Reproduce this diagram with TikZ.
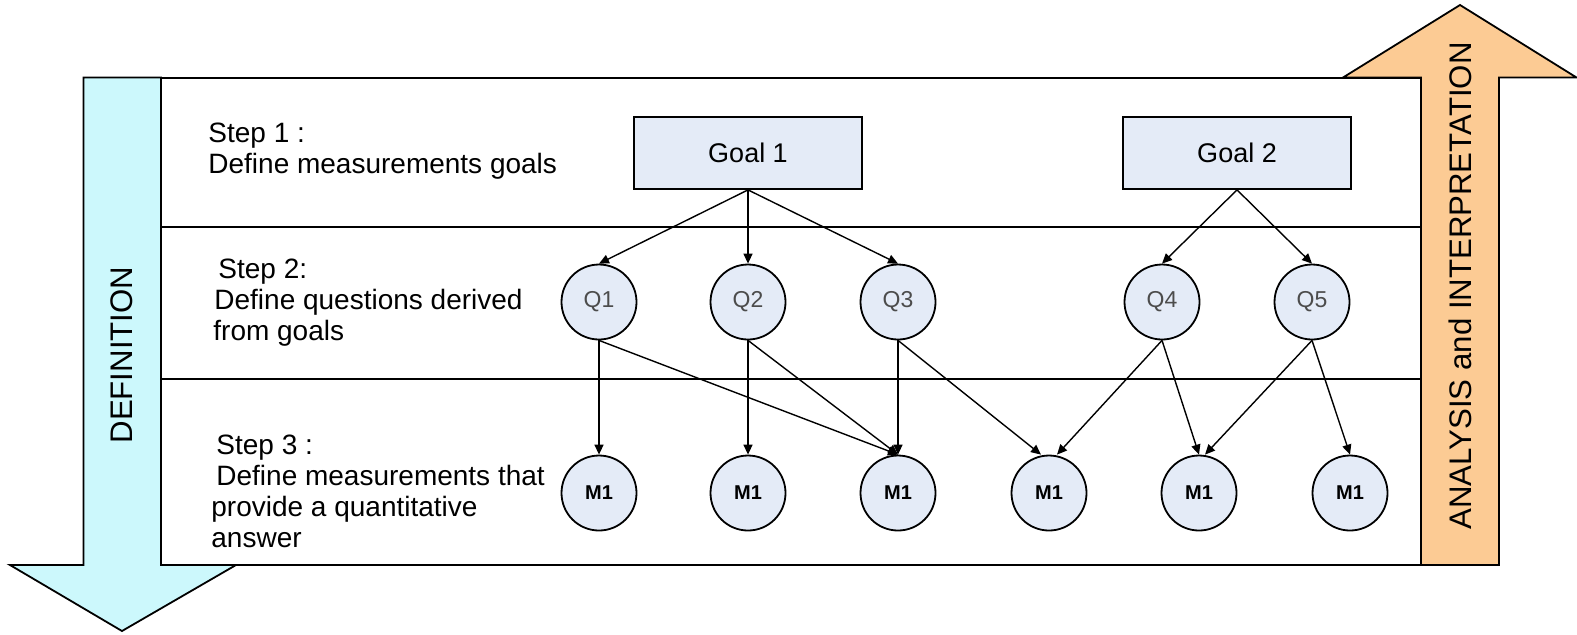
\documentclass[tikz,border=0pt]{standalone}
\usepackage{fontspec}
\setmainfont{Liberation Sans}
\usetikzlibrary{arrows.meta}
\definecolor{defCyan}{HTML}{CCF8FC}
\definecolor{anaOrange}{HTML}{FCCB94}
\definecolor{boxFill}{HTML}{E4EBF7}
\newcommand{\frameLeft}{161}
\newcommand{\frameRight}{1421}
\newcommand{\frameTop}{77.5}
\newcommand{\frameBottom}{565}
\newcommand{\rowOne}{227}
\newcommand{\rowTwo}{379}
\newcommand{\qRow}{302}
\newcommand{\mRow}{493}
\tikzset{
  goalbox/.style={draw, line width=0.9pt, fill=boxFill, minimum width=114pt, minimum height=36pt, font=\fontsize{13.5}{15}\selectfont},
  qnode/.style={draw, line width=0.9pt, circle, fill=boxFill, minimum size=37.5pt, inner sep=0pt, font=\fontsize{11.5}{13}\selectfont, text=black!70},
  mnode/.style={qnode, font=\fontsize{10}{12}\selectfont\bfseries, text=black},
  link/.style={-{Triangle[length=5pt,width=4.5pt]}, line width=0.7pt},
  steptext/.style={anchor=west, align=left, inner sep=0pt, font=\fontsize{14}{15.5}\selectfont},
  arrowtext/.style={rotate=90, font=\fontsize{15.6}{18}\selectfont}
}
\begin{document}
\begin{tikzpicture}[x=0.5pt, y=-0.5pt]
\useasboundingbox (0,0) rectangle (1577,634);
% the two big arrows
\draw[line width=0.9pt, fill=defCyan] (83.5,\frameTop) -- (\frameLeft,\frameTop) -- (\frameLeft,\frameBottom)
  -- (236,\frameBottom) -- (122,631) -- (10,\frameBottom) -- (83.5,\frameBottom) -- cycle;
\draw[line width=0.9pt, fill=anaOrange] (\frameRight,\frameBottom) -- (\frameRight,\frameTop) -- (1343,\frameTop)
  -- (1460,5) -- (1576.5,\frameTop) -- (1499,\frameTop) -- (1499,\frameBottom) -- cycle;
\node[arrowtext] (definition) at (122,355) {DEFINITION};
\node[arrowtext] (analysis) at (1460,286) {ANALYSIS and INTERPRETATION};
% frame and rows
\draw[line width=1pt] (\frameLeft,\frameTop) rectangle (\frameRight,\frameBottom);
\draw[line width=1pt] (\frameLeft,\rowOne) -- (\frameRight,\rowOne);
\draw[line width=1pt] (\frameLeft,\rowTwo) -- (\frameRight,\rowTwo);
% step descriptions
\node[steptext] (step1) at (208,151) {Step 1 :\\Define measurements goals};
\node[steptext] (step2) at (213,303) {\hspace{2.5pt}Step 2:\\\hspace{0.5pt}Define questions derived\\from goals};
\node[steptext] (step3) at (211,491) {\hspace{2.5pt}Step 3 :\\\hspace{2.5pt}Define measurements that\\provide a quantitative\\answer};
% goals
\node[goalbox] (goal1) at (748,153) {Goal 1};
\node[goalbox] (goal2) at (1237,153) {Goal 2};
% questions
\node[qnode] (q1) at (599,\qRow) {Q1};
\node[qnode] (q2) at (748,\qRow) {Q2};
\node[qnode] (q3) at (898,\qRow) {Q3};
\node[qnode] (q4) at (1162,\qRow) {Q4};
\node[qnode] (q5) at (1312,\qRow) {Q5};
% measurements
\node[mnode] (m1) at (599,\mRow) {M1};
\node[mnode] (m2) at (748,\mRow) {M1};
\node[mnode] (m3) at (898,\mRow) {M1};
\node[mnode] (m4) at (1049,\mRow) {M1};
\node[mnode] (m5) at (1199,\mRow) {M1};
\node[mnode] (m6) at (1350,\mRow) {M1};
% goal to question links
\draw[link] (goal1.south) -- (q1.north);
\draw[link] (goal1.south) -- (q2.north);
\draw[link] (goal1.south) -- (q3.north);
\draw[link] (goal2.south) -- (q4.north);
\draw[link] (goal2.south) -- (q5.north);
% question to measurement links
\draw[link] (q1.south) -- (m1.north);
\draw[link] (q1.south) -- (m3.north);
\draw[link] (q2.south) -- (m2.north);
\draw[link] (q2.south) -- (m3.north);
\draw[link] (q3.south) -- (m3.north);
\draw[link] (q3.south) -- ([xshift=-4pt]m4.north);
\draw[link] (q4.south) -- ([xshift=4pt]m4.north);
\draw[link] (q4.south) -- (m5.north);
\draw[link] (q5.south) -- ([xshift=3pt]m5.north);
\draw[link] (q5.south) -- (m6.north);
\end{tikzpicture}
\end{document}
